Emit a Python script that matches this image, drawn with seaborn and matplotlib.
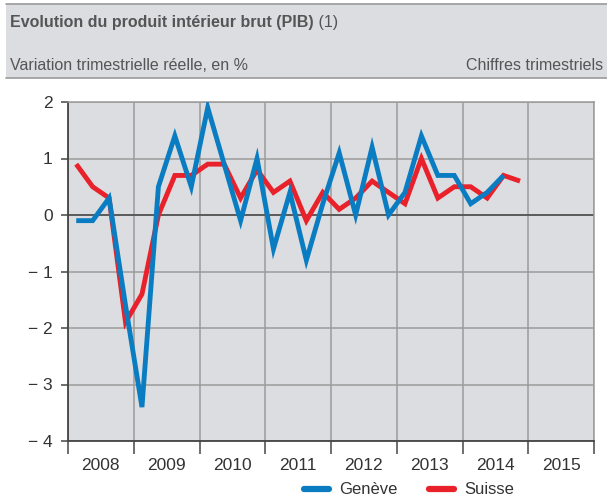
import numpy as np
import pandas as pd
import matplotlib
matplotlib.use("Agg")
import matplotlib.pyplot as plt
import seaborn as sns
from matplotlib.lines import Line2D
from matplotlib.patches import Rectangle

# Quarterly real GDP change, in %
years = [2008, 2009, 2010, 2011, 2012, 2013, 2014]
quarters = [1, 2, 3, 4]
geneve = [
    -0.1, -0.1, 0.3, -1.6,
    -3.4, 0.5, 1.4, 0.5,
    1.9, 0.9, -0.1, 1.0,
    -0.6, 0.4, -0.8, 0.2,
    1.1, 0.0, 1.2, 0.0,
    0.4, 1.4, 0.7, 0.7,
    0.2, 0.4, 0.7,
]
suisse = [
    0.9, 0.5, 0.3, -1.9,
    -1.4, 0.0, 0.7, 0.7,
    0.9, 0.9, 0.3, 0.8,
    0.4, 0.6, -0.1, 0.4,
    0.1, 0.3, 0.6, 0.4,
    0.2, 1.0, 0.3, 0.5,
    0.5, 0.3, 0.7, 0.6,
]
year_labels = ["2008", "2009", "2010", "2011", "2012", "2013", "2014", "2015"]
y_ticks = [2, 1, 0, -1, -2, -3, -4]
y_tick_labels = ["2", "1", "0", "\u2212 1", "\u2212 2", "\u2212 3", "\u2212 4"]

BLUE = "#0a7dc2"
RED = "#e9212b"
TEXT = "#333333"
HEAD = "#555555"
PANEL = "#dcdde0"

# quarter midpoints on a year axis
pos = [y + (q - 0.5) / 4 for y in years for q in quarters]
df = pd.concat([
    pd.DataFrame({"t": pos[:len(suisse)], "val": suisse, "serie": "Suisse"}),
    pd.DataFrame({"t": pos[:len(geneve)], "val": geneve, "serie": "Genève"}),
])

sns.set_style("ticks")
plt.rcParams["font.family"] = ["Liberation Sans", "DejaVu Sans"]

W, H = 607, 499
fig = plt.figure(figsize=(W / 100, H / 100), dpi=100)

# header band
fig.patches.append(Rectangle((6 / W, 1 - 78 / H), 1 - 6 / W, 74 / H,
                             transform=fig.transFigure, facecolor=PANEL,
                             edgecolor="none", zorder=0))
for yy in (4, 78):
    fig.add_artist(Line2D([6 / W, 1], [1 - yy / H, 1 - yy / H],
                          transform=fig.transFigure, color="#9a9a9a", lw=1.2))

title = fig.text(10 / W, 1 - 22 / H, "Evolution du produit intérieur brut (PIB)",
                 fontsize=11.5, fontweight="bold", color=HEAD, va="center")
fig.canvas.draw()
tb = title.get_window_extent()
fig.text(tb.x1 / W, 1 - 22 / H, " (1)", fontsize=11.5, color=HEAD, va="center")
fig.text(10 / W, 1 - 66 / H, "Variation trimestrielle réelle, en %",
         fontsize=11.5, color=HEAD, va="center")
fig.text(603 / W, 1 - 66 / H, "Chiffres trimestriels",
         fontsize=11.5, color=HEAD, va="center", ha="right")

ax = fig.add_axes([68 / W, (H - 441) / H, 526 / W, 339 / H])
ax.set_facecolor(PANEL)

sns.lineplot(data=df, x="t", y="val", hue="serie", hue_order=["Suisse", "Genève"],
             palette={"Suisse": RED, "Genève": BLUE}, linewidth=3.5,
             legend=False, ax=ax, zorder=3)
for l in ax.get_lines():
    l.set_solid_joinstyle("miter")
    l.set_solid_capstyle("butt")

ax.set_xlim(2008, 2016)
ax.set_ylim(-4, 2)
ax.set_xticks(range(2008, 2017))
ax.set_xticklabels([])
ax.set_xticks([y + 0.5 for y in range(2008, 2016)], minor=True)
ax.set_xticklabels(year_labels, minor=True)
ax.set_yticks(y_ticks)
ax.set_yticklabels(y_tick_labels)
ax.set_xlabel("")
ax.set_ylabel("")

ax.tick_params(axis="x", which="major", length=9, width=1.2, color="#555555", direction="out")
ax.tick_params(axis="x", which="minor", length=0, pad=12, labelsize=12.5, labelcolor=TEXT)
ax.tick_params(axis="y", length=5, width=1.2, color="#555555", labelsize=12.5,
               labelcolor=TEXT, pad=6)

ax.grid(True, which="major", color="#9b9b9b", lw=1.1)
ax.set_axisbelow(True)
ax.axhline(0, color="#555555", lw=1.3, zorder=2)

for side in ("top", "right"):
    ax.spines[side].set_color("#9b9b9b")
    ax.spines[side].set_linewidth(1.1)
for side in ("left", "bottom"):
    ax.spines[side].set_color("#444444")
    ax.spines[side].set_linewidth(1.3)

handles = [Line2D([], [], color=BLUE, lw=4.5), Line2D([], [], color=RED, lw=4.5)]
fig.legend(handles, ["Genève", "Suisse"], loc="lower right",
           bbox_to_anchor=(516 / W, 0 / H), ncol=2, frameon=False,
           fontsize=12, handlelength=1.45, handletextpad=0.65, columnspacing=1.9,
           labelcolor=TEXT, borderaxespad=0, borderpad=0.1)

fig.savefig("out.png", dpi=100)
